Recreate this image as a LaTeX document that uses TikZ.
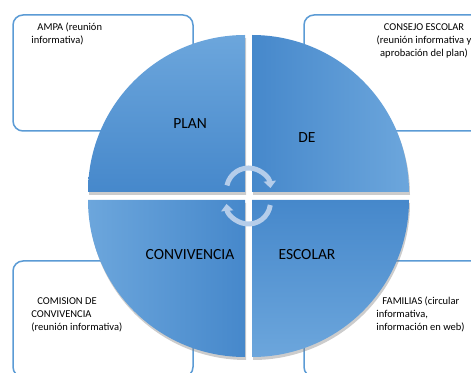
\documentclass[tikz,border=0pt]{standalone}
\usepackage{fontspec}
\setmainfont{Carlito}
\usetikzlibrary{positioning,shadows,arrows.meta}
\definecolor{boxblue}{HTML}{5B9BD5}
\definecolor{quaddark}{HTML}{4688CB}
\definecolor{quadlight}{HTML}{6CA6DC}
\definecolor{cyclearrow}{HTML}{B5CDEA}

\begin{document}
\begin{tikzpicture}[x=1pt,y=1pt,
		infobox/.style={draw=boxblue,line width=1.5pt,rounded corners=10pt,fill=white,
		                minimum width=180pt,minimum height=116pt},
		infotext/.style={font=\fontsize{10.5}{12.8}\selectfont,inner sep=0pt,align=left},
		quadlabel/.style={font=\fontsize{15.5}{18}\selectfont},
		quadrant/.style={drop shadow={opacity=0.4,shadow xshift=1pt,shadow yshift=-3pt}},
		cyclearc/.style={cyclearrow,line width=5pt,-{Triangle[length=7pt,width=12pt]}}]

	\useasboundingbox (0,0) rectangle (471,372);
	\clip (0,0) rectangle (471,372);

	% boxes behind the circle
	\node[infobox] (ampa)     at (103,299) {};
	\node[infobox] (consejo)  at (394,299) {};
	\node[infobox] (comision) at (103,53)  {};
	\node[infobox] (familias) at (394,53)  {};

	\node[infotext] (ampatxt) [below right=8.5pt and 19pt of ampa.north west]
		{\hspace*{6pt}AMPA (reunión\\informativa)};
	\node[infotext,align=center] (consejotxt) [below right=9.5pt and 30pt of consejo.north,anchor=north]
		{CONSEJO ESCOLAR\\(reunión informativa y\\aprobación del plan)};
	\node[infotext] (comisiontxt) [below right=37.5pt and 19pt of comision.north west]
		{\hspace*{6pt}COMISION DE\\CONVIVENCIA\\(reunión informativa)};
	\node[infotext] (familiastxt) [below right=36.5pt and 73pt of familias.north west]
		{\hspace*{6pt}FAMILIAS (circular\\informativa,\\información en web)};

	% the four quarters
	\shade[quadrant,top color=quadlight,bottom color=quaddark]
		(245,180) -- ++(-157,0) arc[start angle=180,end angle=90,radius=157] -- cycle;
	\shade[quadrant,left color=quaddark,right color=quadlight]
		(252,180) -- ++(0,157) arc[start angle=90,end angle=0,radius=157] -- cycle;
	\shade[quadrant,left color=quadlight,right color=quaddark]
		(245,172) -- ++(-157,0) arc[start angle=180,end angle=270,radius=157] -- cycle;
	\shade[quadrant,top color=quaddark,bottom color=quadlight]
		(252,172) -- ++(157,0) arc[start angle=0,end angle=-90,radius=157] -- cycle;

	\node[quadlabel] (plan)        at (190,248) {PLAN};
	\node[quadlabel] (de)          at (307,234) {DE};
	\node[quadlabel] (convivencia) at (190,117) {CONVIVENCIA};
	\node[quadlabel] (escolar)     at (307,117) {ESCOLAR};

	% cycle arrows
	\coordinate (topc) at (248.5,182);
	\coordinate (botc) at (248.5,170);
	\draw[cyclearc] ([shift={(168:22)}]topc) arc[start angle=168,end angle=5,radius=22];
	\draw[cyclearc] ([shift={(-8:22)}]botc) arc[start angle=-8,end angle=-175,radius=22];

\end{tikzpicture}
\end{document}
